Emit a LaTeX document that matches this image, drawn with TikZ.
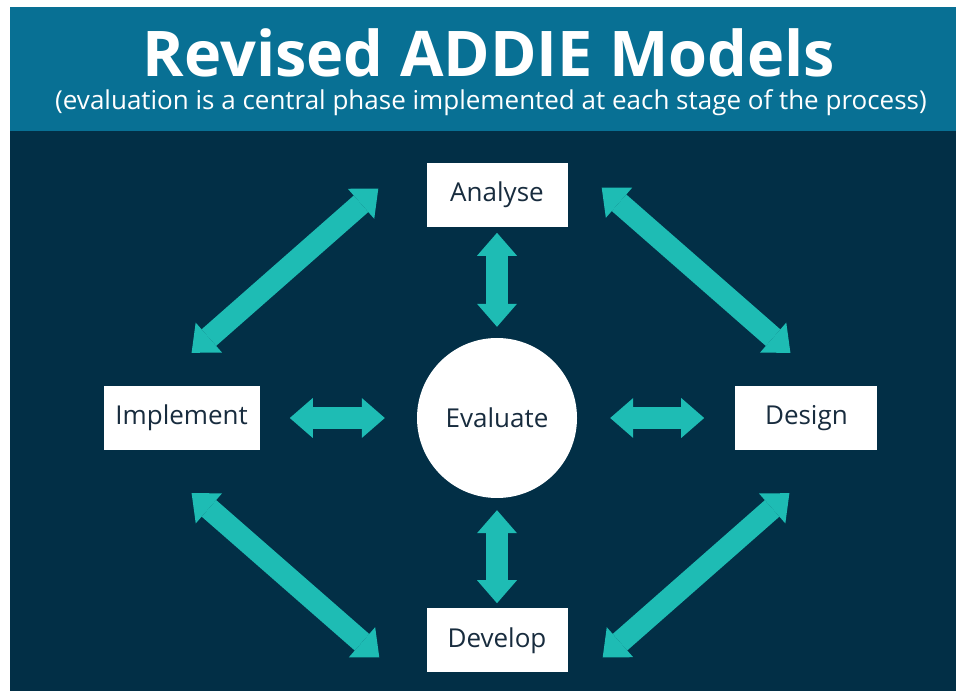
\documentclass[tikz,border=0pt]{standalone}
\usepackage{fontspec}
\setmainfont{Open Sans}
\usetikzlibrary{arrows.meta, positioning}
\definecolor{bandblue}{RGB}{8,112,148}
\definecolor{deepnavy}{RGB}{2,47,70}
\definecolor{arrowteal}{RGB}{30,188,180}
\definecolor{boxtext}{RGB}{24,44,62}

\begin{document}
\begin{tikzpicture}[x=1pt, y=1pt,
    % Define the style of the phase boxes
    phase/.style={rectangle, fill=white, minimum height=64pt, inner sep=0pt, text=boxtext, font=\fontsize{26}{30}\selectfont},
    % Define the style of the central evaluation circle
    hub/.style={circle, fill=white, minimum size=160pt, inner sep=0pt, text=boxtext, font=\fontsize{26}{30}\selectfont},
    % Define the style of the thick double headed arrows
    link/.style={draw=arrowteal, line width=22pt, {Triangle[width=40pt, length=23pt, line width=0pt]}-{Triangle[width=40pt, length=23pt, line width=0pt]}},
    % Define the style of the heading texts
    heading/.style={anchor=base, text=white}
  ]

  % Background panels
  \useasboundingbox (0,0) rectangle (956,691);
  \fill[white] (0,0) rectangle (956,691);
  \fill[deepnavy] (10,0) rectangle (956,560);
  \fill[bandblue] (10,560) rectangle (956,684);

  % Heading
  \node[heading, font=\fontsize{63}{70}\selectfont\bfseries] (title) at (489,614) {Revised ADDIE Models};
  \node[heading, font=\fontsize{26}{30}\selectfont] (subtitle) at (491,581) {(evaluation is a central phase implemented at each stage of the process)};

  % Central node and the four phases
  \node[hub] (evaluate) at (497,273) {Evaluate};
  \node[phase, minimum width=141pt, above=111pt of evaluate] (analyse) {Analyse};
  \node[phase, minimum width=141pt, below=110pt of evaluate] (develop) {Develop};
  \node[phase, minimum width=156pt, left=157pt of evaluate] (implement) {Implement};
  \node[phase, minimum width=142pt, right=158pt of evaluate] (design) {Design};

  % Links to the centre
  \draw[link, shorten <=6pt, shorten >=11pt] (analyse) -- (evaluate);
  \draw[link, shorten <=12pt, shorten >=5pt] (evaluate) -- (develop);
  \draw[link, shorten <=30pt, shorten >=32pt] (implement) -- (evaluate);
  \draw[link, shorten <=33pt, shorten >=31pt] (evaluate) -- (design);

  % Links round the cycle
  \draw[link] ([xshift=-48pt, yshift=6pt]analyse.west) -- ([xshift=10pt, yshift=33pt]implement.north);
  \draw[link] ([xshift=34pt, yshift=7pt]analyse.east) -- ([xshift=-16pt, yshift=33pt]design.north);
  \draw[link] ([xshift=10pt, yshift=-43pt]implement.south) -- ([xshift=-47pt, yshift=-17pt]develop.west);
  \draw[link] ([xshift=-17pt, yshift=-43pt]design.south) -- ([xshift=35pt, yshift=-17pt]develop.east);
\end{tikzpicture}
\end{document}
